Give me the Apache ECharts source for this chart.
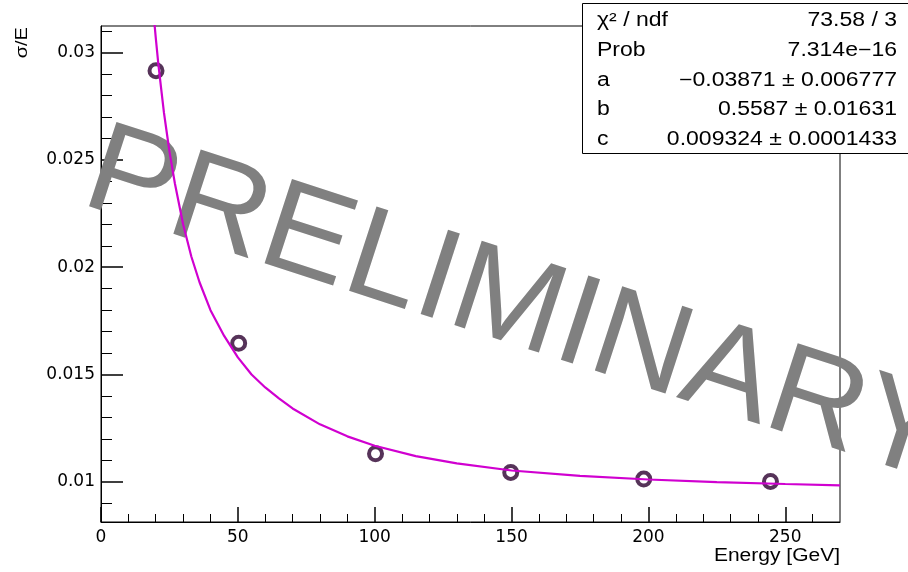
<!DOCTYPE html>
<html>
<head>
<meta charset="utf-8">
<title>sigma/E vs energy</title>
<script src="https://cdn.jsdelivr.net/npm/echarts@6/dist/echarts.min.js"></script>
<style>
html, body { margin: 0; padding: 0; background: #fff; }
#chart { width: 908px; height: 572px; }
</style>
</head>
<body>
<div id="chart"></div>
<script>
// measured points
const energies = [20.1, 50.3, 100.3, 149.7, 198.3, 244.6];
const sigmaOverE = [0.02916, 0.01646, 0.01131, 0.01044, 0.01013, 0.01002];

// fit curve
const fitEnergy = [19.5, 20, 21, 22, 23, 24, 25, 27, 30, 33, 36, 40, 45, 50, 55, 60, 65, 70, 80, 90,
  100, 115, 130, 150, 175, 200, 225, 250, 270];
const fitSigma = [0.0314, 0.0307, 0.0294, 0.0283, 0.0272, 0.0263, 0.0254, 0.0239, 0.0220, 0.0205, 0.0193,
  0.0180, 0.0168, 0.0158, 0.0150, 0.0144, 0.01389, 0.01342, 0.01268, 0.01212,
  0.01168, 0.0112, 0.01086, 0.01053, 0.01028, 0.01011, 0.00999, 0.0099, 0.00984];

// axis ticks
const xMajorTicks = [0, 50, 100, 150, 200, 250];
const xMinorTicks = [10, 20, 30, 40, 60, 70, 80, 90, 110, 120, 130, 140, 160, 170, 180, 190, 210, 220, 230, 240, 260];
const yMajorTicks = [0.01, 0.015, 0.02, 0.025, 0.03];
const yMinorTicks = [0.009, 0.011, 0.012, 0.013, 0.014, 0.016, 0.017, 0.018, 0.019,
  0.021, 0.022, 0.023, 0.024, 0.026, 0.027, 0.028, 0.029, 0.031];

// fit statistics box
const statNames = ['χ² / ndf', 'Prob', 'a', 'b', 'c'];
const statValues = ['73.58 / 3', '7.314e−16', '−0.03871 ± 0.006777', '0.5587 ± 0.01631', '0.009324 ± 0.0001433'];

const chart = echarts.init(document.getElementById('chart'));

const font = '"Liberation Sans", Arial, sans-serif';

function majorAxis(min, max, ticks, len, extra) {
  return Object.assign({
    type: 'value', min: min, max: max,
    axisLine: { show: true, lineStyle: { color: '#000', width: 1 } },
    axisTick: { show: true, inside: true, length: len, customValues: ticks, lineStyle: { color: '#000', width: 1.5 } },
    axisLabel: { customValues: ticks, color: '#000', fontFamily: '"DejaVu Sans", sans-serif', fontSize: 17 },
    splitLine: { show: false }
  }, extra);
}
function minorAxis(min, max, ticks, len, extra) {
  return Object.assign({
    type: 'value', min: min, max: max,
    axisLine: { show: false },
    axisTick: { show: true, inside: true, length: len, customValues: ticks, lineStyle: { color: '#000', width: 1 } },
    axisLabel: { show: false },
    splitLine: { show: false }
  }, extra);
}

const xA = majorAxis(0, 270, xMajorTicks, 15, { position: 'bottom' });
xA.axisLabel.margin = 7;
const yA = majorAxis(0.00813, 0.03124, yMajorTicks, 22, { position: 'left' });
yA.axisLabel.margin = 6;
yA.axisLabel.formatter = v => String(v);

// stats box
const statItems = [{
  type: 'rect', shape: { x: 582.5, y: 3.5, width: 340, height: 150 },
  style: { fill: '#fff', stroke: '#000', lineWidth: 1 }
}];
statNames.forEach((n, i) => {
  const y = 21 + i * 29.6;
  statItems.push({ type: 'text', x: 597, y: y, scaleX: 1.18,
    style: { text: n, font: '19.5px ' + font, fill: '#000', textAlign: 'left', textVerticalAlign: 'middle' } });
  statItems.push({ type: 'text', x: 897, y: y, scaleX: 1.18,
    style: { text: statValues[i], font: '19.5px ' + font, fill: '#000', textAlign: 'right', textVerticalAlign: 'middle' } });
});

chart.setOption({
  animation: false,
  backgroundColor: '#fff',
  grid: { left: 101, right: 68, top: 26, bottom: 50, show: true, borderColor: '#000', borderWidth: 1 },
  xAxis: [xA, minorAxis(0, 270, xMinorTicks, 8, { position: 'bottom' })],
  yAxis: [yA, minorAxis(0.00813, 0.03124, yMinorTicks, 11, { position: 'left' })],
  series: [
    {
      type: 'scatter',
      data: energies.map((e, i) => [e, sigmaOverE[i]]),
      symbol: 'circle', symbolSize: 13,
      itemStyle: { color: 'rgba(0,0,0,0)', borderColor: '#2c0030', borderWidth: 4 },
      z: 3
    },
    {
      type: 'line',
      data: fitEnergy.map((e, i) => [e, fitSigma[i]]),
      showSymbol: false, smooth: false,
      lineStyle: { color: '#d000d0', width: 2.2 },
      z: 4
    }
  ],
  graphic: [
    { type: 'text', x: 517, y: 308, rotation: -18 * Math.PI / 180, scaleX: 1.03, z: 1,
      style: { text: 'PRELIMINARY', font: '129px ' + font, fill: '#808080', textAlign: 'center', textVerticalAlign: 'middle' } },
    { type: 'text', x: 22.5, y: 27, rotation: Math.PI / 2, scaleX: 1.18, z: 10,
      style: { text: 'σ/E', font: '17px ' + font, fill: '#000', textAlign: 'right', textVerticalAlign: 'middle' } },
    { type: 'text', x: 840, y: 556, scaleX: 1.2, z: 10,
      style: { text: 'Energy [GeV]', font: '17.5px ' + font, fill: '#000', textAlign: 'right', textVerticalAlign: 'middle' } },
    { type: 'group', z: 100, children: statItems }
  ]
});
</script>
</body>
</html>
